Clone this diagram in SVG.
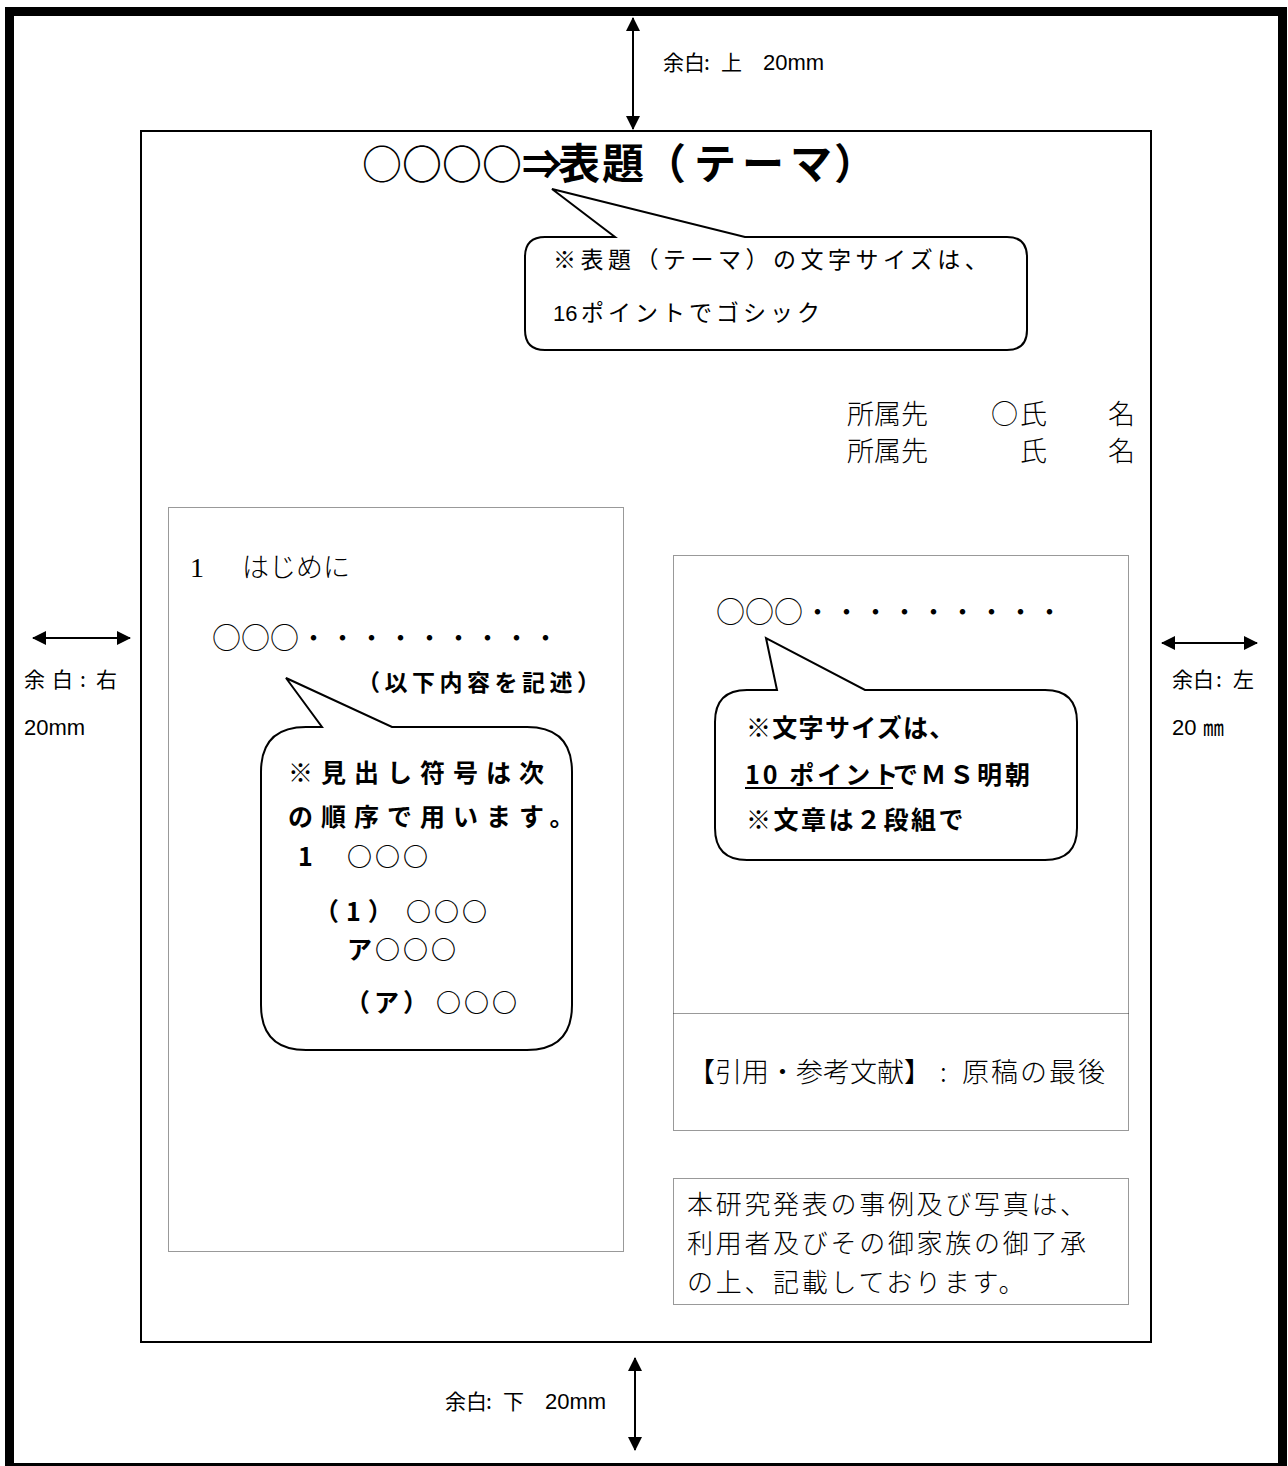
<svg xmlns="http://www.w3.org/2000/svg" width="1288" height="1466" viewBox="0 0 1288 1466">
<style>
.goth{font-family:"Noto Sans CJK JP","Liberation Sans",sans-serif;fill:#000}
.lat{font-family:"Liberation Sans","Noto Sans CJK JP",sans-serif}
.min{font-family:"Noto Sans CJK JP",serif;fill:#000;font-weight:300}
.ser{font-family:"Liberation Serif",serif}
.dot{fill:none;stroke:#333;stroke-width:1;stroke-dasharray:1 1}
.bub{fill:#fff;stroke:#000;stroke-width:2;stroke-linejoin:miter}
.arr{stroke:#000;stroke-width:2;fill:none}
</style>
<defs>
<marker id="ah" viewBox="0 0 14 14" refX="13" refY="7" markerWidth="14" markerHeight="14" markerUnits="userSpaceOnUse" orient="auto-start-reverse">
<path d="M0,0 L14,7 L0,14 z" fill="#000"/>
</marker>
</defs>
<rect width="1288" height="1466" fill="#fff"/>
<g id="frame">
<rect x="9.5" y="11.5" width="1273" height="1456" fill="none" stroke="#000" stroke-width="9"/>
</g>
<g id="page">
<rect x="141" y="131" width="1010" height="1211" fill="none" stroke="#000" stroke-width="2"/>
</g>
<g id="connectors">
<line class="arr" x1="633" y1="18" x2="633" y2="129" marker-start="url(#ah)" marker-end="url(#ah)"/>
<line class="arr" x1="635" y1="1358" x2="635" y2="1450" marker-start="url(#ah)" marker-end="url(#ah)"/>
<line class="arr" x1="33" y1="638" x2="130" y2="638" marker-start="url(#ah)" marker-end="url(#ah)"/>
<line class="arr" x1="1162" y1="643" x2="1257" y2="643" marker-start="url(#ah)" marker-end="url(#ah)"/>
</g>
<g id="margin-top"><text class="goth" y="70" font-size="21"><tspan x="663">余白</tspan><tspan x="704">:</tspan><tspan x="721">上 </tspan><tspan class="lat" x="763" font-size="22">20mm</tspan></text></g>
<g id="margin-bottom"><text class="goth" y="1409" font-size="21"><tspan x="445">余白</tspan><tspan x="486">:</tspan><tspan x="503">下 </tspan><tspan class="lat" x="545" font-size="22">20mm</tspan></text></g>
<g id="margin-right">
<text class="goth" y="687" font-size="21"><tspan x="24">余 </tspan><tspan x="52">白 </tspan><tspan x="80">: </tspan><tspan x="96">右</tspan></text>
<text class="lat" x="24" y="735" font-size="22">20mm</text>
</g>
<g id="margin-left">
<text class="goth" y="687" font-size="21"><tspan x="1172">余白</tspan><tspan x="1216">:</tspan><tspan x="1233">左</tspan></text>
<text class="goth" y="735" font-size="21"><tspan class="lat" x="1172" font-size="22">20 </tspan><tspan x="1203">㎜</tspan></text>
</g>
<g id="title">
<text class="goth" y="179" font-size="42" font-weight="bold"><tspan x="362" font-size="40" font-weight="normal">○</tspan><tspan x="402" font-size="40">○○○⇒</tspan><tspan x="558" letter-spacing="2">表題</tspan><tspan x="644">（</tspan><tspan x="694" letter-spacing="6">テーマ</tspan><tspan x="834">）</tspan></text>
</g>
<g id="title-callout">
<path class="bub" d="M545,237 L615,237 L552,189 L745,237 L1007,237 Q1027,237 1027,257 L1027,330 Q1027,350 1007,350 L545,350 Q525,350 525,330 L525,257 Q525,237 545,237 Z"/>
<text class="goth" x="553" y="268" font-size="23" letter-spacing="4.5">※表題（テーマ）の文字サイズは、</text>
<text class="goth" y="321" font-size="23"><tspan class="lat" x="553" font-size="22">16 </tspan><tspan x="581" letter-spacing="4">ポイントでゴシック</tspan></text>
</g>
<g id="authors">
<text class="min" font-size="27" y="424"><tspan x="847">所属先</tspan><tspan x="991">○</tspan><tspan x="1020">氏</tspan><tspan x="1108">名</tspan></text>
<text class="min" font-size="27" y="461"><tspan x="847">所属先</tspan><tspan x="1020">氏</tspan><tspan x="1108">名</tspan></text>
</g>
<g id="left-column">
<rect class="dot" x="168.5" y="507.5" width="455" height="744"/>
<text class="min" y="577" font-size="27"><tspan class="ser" x="190" font-size="28">1</tspan><tspan x="242">はじめに</tspan></text>
<text class="min" x="212" y="649" font-size="29">○○○・・・・・・・・・</text>
<text class="goth" x="357" y="691" font-size="23" font-weight="bold" letter-spacing="4.5">（以下内容を記述）</text>
</g>
<g id="left-callout">
<path class="bub" d="M306,727 L322,727 L286,678 L392,727 L527,727 Q572,727 572,772 L572,1005 Q572,1050 527,1050 L306,1050 Q261,1050 261,1005 L261,772 Q261,727 306,727 Z"/>
<g class="goth" font-size="25" font-weight="bold">
<text x="288" y="782" letter-spacing="8">※見出し符号は次</text>
<text x="288" y="826" letter-spacing="8">の順序で用います。</text>
<text y="866"><tspan x="298">1</tspan><tspan x="347" letter-spacing="3">○○○</tspan></text>
<text y="921"><tspan x="314" letter-spacing="7">（1）</tspan><tspan x="406" letter-spacing="3">○○○</tspan></text>
<text x="347" y="959" letter-spacing="3">ア○○○</text>
<text y="1012"><tspan x="345" letter-spacing="4">（ア）</tspan><tspan x="436" letter-spacing="3">○○○</tspan></text>
</g>
</g>
<g id="right-column">
<rect class="dot" x="673.5" y="555.5" width="455" height="575"/>
<line class="dot" x1="673.5" y1="1013.5" x2="1128.5" y2="1013.5"/>
<text class="min" x="716" y="623" font-size="29">○○○・・・・・・・・・</text>
</g>
<g id="right-callout">
<path class="bub" d="M747,690 L777,690 L766,638 L865,690 L1045,690 Q1077,690 1077,722 L1077,828 Q1077,860 1045,860 L747,860 Q715,860 715,828 L715,722 Q715,690 747,690 Z"/>
<g class="goth" font-size="25" font-weight="bold">
<text x="746" y="737" letter-spacing="1.3">※文字サイズは、</text>
<text y="784"><tspan x="745" letter-spacing="3">10 ポイント</tspan><tspan x="893" letter-spacing="3">でＭＳ明朝</tspan></text>
<text x="746" y="829" letter-spacing="2.5">※文章は２段組で</text>
</g>
<line x1="745" y1="788" x2="893" y2="788" stroke="#000" stroke-width="2"/>
</g>
<g id="references">
<text class="min" y="1082" font-size="27"><tspan x="688">【引用・参考文献】</tspan><tspan x="940">:</tspan><tspan x="962" letter-spacing="2">原稿の最後</tspan></text>
</g>
<g id="consent-note">
<rect class="dot" x="673.5" y="1178.5" width="455" height="126"/>
<g class="min" font-size="26" letter-spacing="2.7">
<text x="687" y="1214">本研究発表の事例及び写真は、</text>
<text x="687" y="1253">利用者及びその御家族の御了承</text>
<text x="687" y="1292">の上、記載しております。</text>
</g>
</g>
</svg>
